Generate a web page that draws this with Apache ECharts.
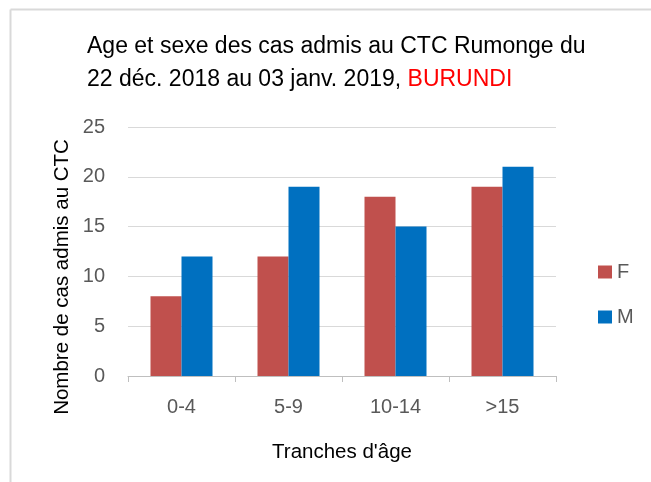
<!DOCTYPE html>
<html>
<head>
<meta charset="utf-8">
<script src="https://cdn.jsdelivr.net/npm/echarts@6/dist/echarts.min.js"></script>
<style>
html,body{margin:0;padding:0;background:#fff;}
#c{width:651px;height:482px;}
</style>
</head>
<body>
<div id="c"></div>
<script>
const categories = ['0-4', '5-9', '10-14', '>15'];
const seriesNames = ['F', 'M'];
const valuesF = [8, 12, 18, 19];
const valuesM = [12, 19, 15, 21];
const yTicks = [0, 5, 10, 15, 20, 25];

const FONT = '"Liberation Sans", "DejaVu Sans", sans-serif';
const chart = echarts.init(document.getElementById('c'), null, {renderer: 'canvas'});
chart.setOption({
  backgroundColor: '#fff',
  animation: false,
  title: {
    left: 87,
    top: 30,
    padding: 0,
    text: 'Age et sexe des cas admis au CTC Rumonge du\n22 déc. 2018 au 03 janv. 2019, {r|BURUNDI}',
    textStyle: {
      fontFamily: FONT, fontSize: 23, fontWeight: 'normal', color: '#000', lineHeight: 33,
      rich: { r: { color: '#FF0000', fontFamily: FONT, fontSize: 23, lineHeight: 33 } }
    }
  },
  legend: {
    orient: 'vertical',
    left: 598,
    top: 262,
    padding: 0,
    itemWidth: 14,
    itemHeight: 13,
    itemGap: 25,
    icon: 'rect',
    textStyle: { fontFamily: FONT, fontSize: 20, color: '#595959' },
    data: seriesNames
  },
  grid: { left: 128, right: 95, top: 127, height: 249 },
  xAxis: {
    type: 'category',
    data: categories,
    name: "Tranches d'âge",
    nameLocation: 'middle',
    nameGap: 66,
    nameTextStyle: { fontFamily: FONT, fontSize: 20.5, color: '#000' },
    axisLine: { lineStyle: { color: '#BFBFBF', width: 1 } },
    axisTick: { show: true, length: 6, lineStyle: { color: '#BFBFBF' } },
    axisLabel: { fontFamily: FONT, fontSize: 20, color: '#595959', margin: 21 }
  },
  yAxis: {
    type: 'value',
    min: 0, max: 25, interval: 5,
    axisLine: { show: false },
    axisTick: { show: false },
    splitLine: { lineStyle: { color: '#D9D9D9', width: 1 } },
    axisLabel: { fontFamily: FONT, fontSize: 20, color: '#595959', margin: 23 }
  },
  series: [
    { name: 'F', type: 'bar', data: valuesF, barWidth: 31, barGap: '0%', itemStyle: { color: '#C0504D' } },
    { name: 'M', type: 'bar', data: valuesM, barWidth: 31, barGap: '0%', itemStyle: { color: '#0070C0' } }
  ],
  graphic: [
    { type: 'line', shape: { x1: 10.5, y1: 9.5, x2: 651, y2: 9.5 }, style: { stroke: '#D9D9D9', lineWidth: 2 } },
    { type: 'line', shape: { x1: 10.5, y1: 9.5, x2: 10.5, y2: 482 }, style: { stroke: '#D9D9D9', lineWidth: 2 } },
    { type: 'text', x: 62, y: 277, rotation: Math.PI / 2,
      style: { text: 'Nombre de cas admis au CTC', fontFamily: FONT, fontSize: 20.5, fill: '#000', align: 'center', verticalAlign: 'middle' } }
  ]
});
</script>
</body>
</html>
